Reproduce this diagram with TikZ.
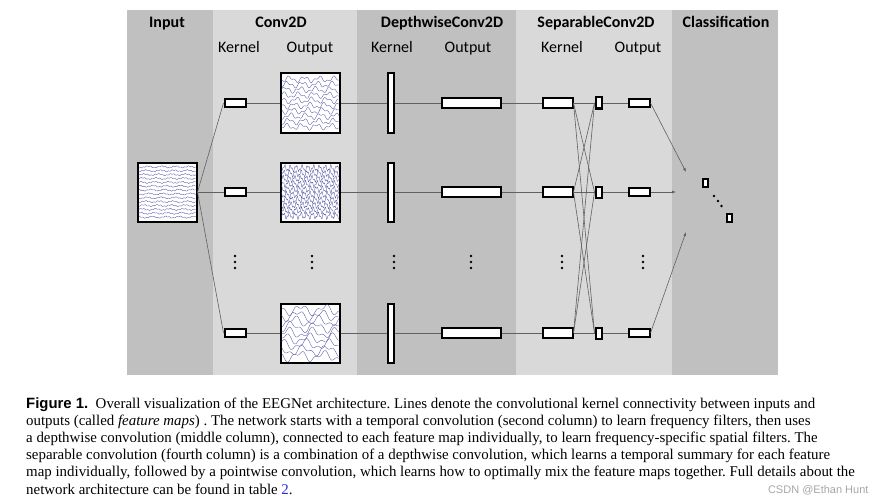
\documentclass[tikz,border=0pt]{standalone}
\usepackage{fontspec}
\setmainfont{Liberation Serif}
\newfontfamily\hdfont{Carlito}
\newfontfamily\figfont{Liberation Sans}
\usetikzlibrary{arrows.meta}

\definecolor{paneldark}{RGB}{192,192,192}
\definecolor{panellight}{RGB}{217,217,217}
\definecolor{eegblue}{RGB}{85,85,165}
\definecolor{linkblue}{RGB}{40,40,225}

\tikzset{
    box/.style={draw=black, fill=white, line width=2pt, inner sep=0pt},
    wire/.style={draw=black!62, line width=0.6pt},
    wave/.style={draw=eegblue, line width=0.35pt},
    head/.style={anchor=base, font=\hdfont\bfseries\fontsize{16}{18}\selectfont},
    sub/.style={anchor=base, font=\hdfont\fontsize{16}{18}\selectfont},
}

% wavy eeg traces inside a 59pt square: cx, cy, lines, freq, amp, noise freq
\newcommand{\eegmap}[6]{%
    \begin{scope}
        \clip (#1-28.5,#2-28.5) rectangle (#1+28.5,#2+28.5);
        \foreach \k in {1,...,#3}
            \draw[wave] plot[domain=-29:29, samples=100, smooth]
                (#1+\x, {#2-29+\k*58/(#3+1) + #5*sin(#4*\x+47*\k) + 0.6*#5*sin(#6*\x+37*\k*\k)});
    \end{scope}}

\begin{document}
\begin{tikzpicture}[x=1pt, y=-1pt]
    \useasboundingbox (0,0) rectangle (890,500);

    % Panels
    \fill[paneldark]  (127,10) rectangle (213,375);
    \fill[panellight] (213,10) rectangle (357,375);
    \fill[paneldark]  (357,10) rectangle (516,375);
    \fill[panellight] (516,10) rectangle (672,375);
    \fill[paneldark]  (672,10) rectangle (778,375);

    % Headers
    \node[head] (hInput) at (167,28) {Input};
    \node[head] (hConv) at (281,28) {Conv2D};
    \node[head] (hDepth) at (442,28) {DepthwiseConv2D};
    \node[head] (hSep) at (596,28) {SeparableConv2D};
    \node[head] (hClass) at (726,28) {Classification};
    \node[sub] (sKernelA) at (239,53) {Kernel};
    \node[sub] (sOutputA) at (310,53) {Output};
    \node[sub] (sKernelB) at (392,53) {Kernel};
    \node[sub] (sOutputB) at (468,53) {Output};
    \node[sub] (sKernelC) at (562,53) {Kernel};
    \node[sub] (sOutputC) at (638,53) {Output};

    % Nodes
    \node[box, minimum width=59, minimum height=59] (in) at (167,192) {};

    \node[box, minimum width=21, minimum height=8] (k1) at (235,103) {};
    \node[box, minimum width=21, minimum height=8] (k2) at (235,192) {};
    \node[box, minimum width=21, minimum height=8] (k3) at (235,333) {};

    \node[box, minimum width=59, minimum height=59] (o1) at (310,103) {};
    \node[box, minimum width=59, minimum height=59] (o2) at (310,192) {};
    \node[box, minimum width=59, minimum height=59] (o3) at (310,333) {};

    \node[box, minimum width=6, minimum height=59] (dk1) at (390.5,103) {};
    \node[box, minimum width=6, minimum height=59] (dk2) at (390.5,192) {};
    \node[box, minimum width=6, minimum height=59] (dk3) at (390.5,333) {};

    \node[box, minimum width=59, minimum height=10] (do1) at (471,103) {};
    \node[box, minimum width=59, minimum height=10] (do2) at (471,192) {};
    \node[box, minimum width=59, minimum height=10] (do3) at (471,333) {};

    \node[box, minimum width=30, minimum height=10] (sk1) at (557.5,103) {};
    \node[box, minimum width=30, minimum height=10] (sk2) at (557.5,192) {};
    \node[box, minimum width=30, minimum height=10] (sk3) at (557.5,333) {};

    \node[box, minimum width=6, minimum height=11] (pw1) at (598.5,103) {};
    \node[box, minimum width=6, minimum height=11] (pw2) at (598.5,192) {};
    \node[box, minimum width=6, minimum height=11] (pw3) at (598.5,333) {};

    \node[box, minimum width=21, minimum height=8] (so1) at (639,103) {};
    \node[box, minimum width=21, minimum height=8] (so2) at (639,192) {};
    \node[box, minimum width=21, minimum height=8] (so3) at (639,333) {};

    \node[box, minimum width=5, minimum height=8] (c1) at (705,182.5) {};
    \node[box, minimum width=5, minimum height=8] (c2) at (729,218) {};

    \coordinate (t1) at (686,172);
    \coordinate (t2) at (676,192);
    \coordinate (t3) at (686,232);

    % EEG traces
    \eegmap{167}{192}{14}{26}{0.7}{95}
    \eegmap{310}{103}{10}{24}{2.2}{55}
    \eegmap{310}{192}{10}{62}{2.4}{150}
    \eegmap{310}{333}{9}{15}{3.8}{33}

    % Edges
    \foreach \r in {1,2,3} {
        \draw[wire] (in.east) -- (k\r.west);
        \draw[wire] (k\r) -- (o\r);
        \draw[wire] (o\r) -- (dk\r);
        \draw[wire] (dk\r) -- (do\r);
        \draw[wire] (do\r) -- (sk\r);
        \draw[wire] (pw\r) -- (so\r);
        \foreach \s in {1,2,3}
            \draw[wire] (sk\r.east) -- (pw\s.west);
        \draw[wire, -{Latex[length=4pt, width=3pt]}] (so\r.east) -- (t\r);
    }

    % Dots
    \foreach \xx in {235,312,394,471,562,643}
        \foreach \yy in {256,262,268}
            \fill (\xx,\yy) circle (1.4);
    \foreach \xx/\yy in {714/196,718/201,721.5/206}
        \fill (\xx,\yy) circle (1.4);

    % Caption
    \node[anchor=north west, align=left, inner sep=0pt, font=\fontsize{14.9}{17.2}\selectfont\frenchspacing] (caption) at (26,397)
        {{\figfont\bfseries Figure 1.}\ \ Overall visualization of the EEGNet architecture. Lines denote the convolutional kernel connectivity between inputs and\\
        outputs (called \textit{feature maps}) . The network starts with a temporal convolution (second column) to learn frequency filters, then uses\\
        a depthwise convolution (middle column), connected to each feature map individually, to learn frequency-specific spatial filters. The\\
        separable convolution (fourth column) is a combination of a depthwise convolution, which learns a temporal summary for each feature\\
        map individually, followed by a pointwise convolution, which learns how to optimally mix the feature maps together. Full details about the\\
        network architecture can be found in table \textcolor{linkblue}{2}.};

    \node[anchor=east, text=black!35, font=\figfont\fontsize{11}{12}\selectfont] (mark) at (872,490) {CSDN @Ethan Hunt};
\end{tikzpicture}
\end{document}
